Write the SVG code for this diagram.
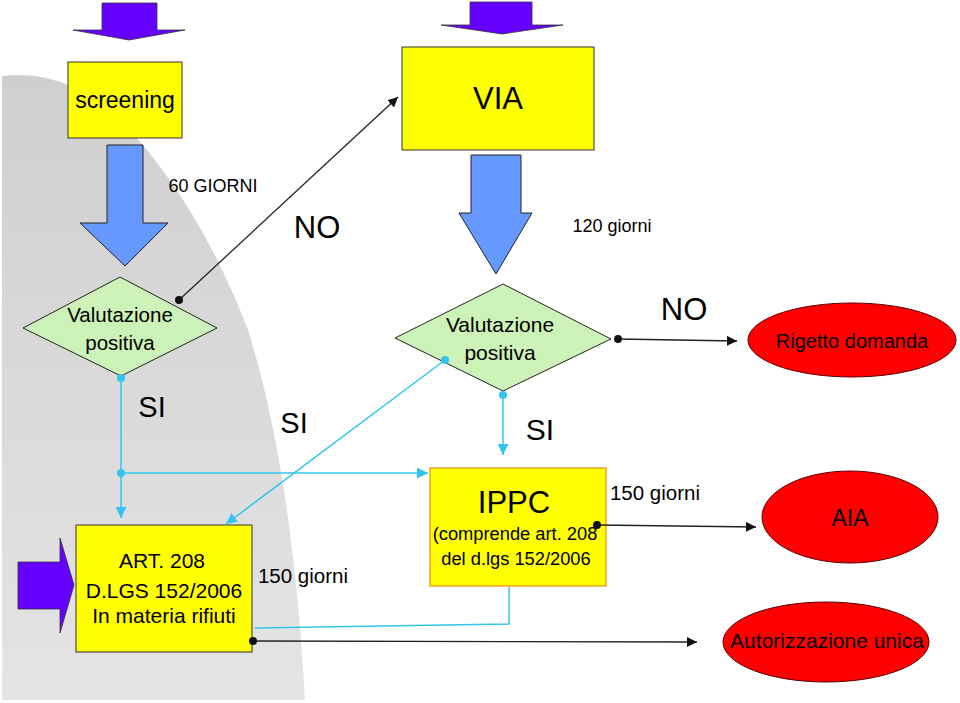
<svg xmlns="http://www.w3.org/2000/svg" width="960" height="703" viewBox="0 0 960 703">
<defs>
<style>
.t{font-family:"Liberation Sans",Arial,sans-serif;fill:#000;text-anchor:middle}
.box{fill:#ffff00;stroke:#333;stroke-width:1}
.dia{fill:#ccf2b8;stroke:#222;stroke-width:1}
.ell{fill:#ff0000;stroke:#5a0000;stroke-width:1}
.purple{fill:#6600ff;stroke:#333;stroke-width:0.8}
.blue{fill:#6699ff;stroke:#222;stroke-width:1}
.cy{stroke:#33c4ee;stroke-width:1.5;fill:none}
.bk{stroke:#222;stroke-width:1.3;fill:none}
</style>
<linearGradient id="g" x1="0" y1="0" x2="0" y2="1">
<stop offset="0" stop-color="#cfcfcf"/>
<stop offset="1" stop-color="#e4e4e4"/>
</linearGradient>
<marker id="ab" viewBox="0 0 10 10" refX="10" refY="5" markerWidth="10" markerHeight="10" markerUnits="userSpaceOnUse" orient="auto"><path d="M0,0 L10,5 L0,10 Z" fill="#111"/></marker>
<marker id="ac" viewBox="0 0 10 10" refX="10" refY="5" markerWidth="11" markerHeight="11" markerUnits="userSpaceOnUse" orient="auto"><path d="M0,0 L10,5 L0,10 Z" fill="#33c4ee"/></marker>
</defs>
<rect width="960" height="703" fill="#fff"/>
<path d="M2,76 Q 70,68 125,125 Q 200,205 248,330 Q 292,470 305,700 L 2,700 Z" fill="url(#g)"/>

<g id="arrow-top-screening"><polygon class="purple" points="102,3 157,3 157,30 185,30 129,40 73,30 102,30"/></g>
<g id="arrow-top-via"><polygon class="purple" points="470,2 532,2 532,25 563,25 502,34 441,25 470,25"/></g>
<g id="arrow-left-art"><polygon class="purple" points="18,562 60,562 60,538 74,585 60,633 60,609 18,609"/></g>

<g id="screening"><rect class="box" x="68" y="62" width="114" height="76"/><text class="t" x="125" y="108" font-size="23">screening</text></g>
<g id="via"><rect class="box" x="402" y="47" width="192" height="103"/><text class="t" x="498" y="109" font-size="31">VIA</text></g>

<g id="arrow-screening-down"><polygon class="blue" points="107,145 143,145 143,223 168,223 125,266 80,223 107,223"/></g>
<g id="arrow-via-down"><polygon class="blue" points="471,155 521,155 521,213 532,213 496,274 459,213 471,213"/></g>

<g id="val1"><polygon class="dia" points="23,328 120,277 217,328 121,376"/><text class="t" x="120" y="322" font-size="20.5">Valutazione</text><text class="t" x="120" y="350" font-size="20.5">positiva</text></g>
<g id="val2"><polygon class="dia" points="395,338 503,284 611,339 503,391"/><text class="t" x="500" y="332" font-size="21">Valutazione</text><text class="t" x="500" y="360" font-size="21">positiva</text></g>

<g id="rigetto"><ellipse class="ell" cx="852" cy="340" rx="104" ry="37"/><text class="t" x="852" y="348" font-size="20" fill="#220000">Rigetto domanda</text></g>

<g id="art208"><rect class="box" x="76" y="525" width="176" height="127"/><text class="t" x="162" y="568" font-size="21">ART. 208</text><text class="t" x="164" y="598" font-size="21">D.LGS 152/2006</text><text class="t" x="164" y="623" font-size="21">In materia rifiuti</text></g>

<g id="ippc"><rect x="430" y="468" width="176" height="118" fill="#ffff00" stroke="#e8920e" stroke-width="1.2"/><text class="t" x="514" y="513" font-size="31">IPPC</text><text class="t" x="515" y="540" font-size="18.3">(comprende art. 208</text><text class="t" x="516" y="565" font-size="18.3">del d.lgs 152/2006</text></g>

<g id="aia"><ellipse class="ell" cx="850" cy="517" rx="88" ry="46"/><text class="t" x="850" y="526" font-size="23">AIA</text></g>
<g id="autorizzazione"><ellipse class="ell" cx="826" cy="642" rx="103" ry="40"/><text class="t" x="827" y="648" font-size="21">Autorizzazione unica</text></g>

<g id="connectors">
<line class="bk" x1="179" y1="300" x2="398" y2="97" marker-end="url(#ab)"/>
<circle cx="179" cy="300" r="4" fill="#111"/>
<line class="bk" x1="618" y1="339" x2="737" y2="341" marker-end="url(#ab)"/>
<circle cx="618" cy="339" r="4" fill="#111"/>
<line class="bk" x1="597" y1="525" x2="756" y2="527" marker-end="url(#ab)"/>
<circle cx="597" cy="525" r="4" fill="#111"/>
<line class="bk" x1="253" y1="641" x2="697" y2="642" marker-end="url(#ab)"/>
<circle cx="253" cy="641" r="4" fill="#111"/>

<line class="cy" x1="121" y1="376" x2="121" y2="518" marker-end="url(#ac)"/>
<circle cx="121" cy="378" r="4" fill="#33c4ee"/>
<line class="cy" x1="121" y1="473" x2="428" y2="473" marker-end="url(#ac)"/>
<circle cx="121" cy="473" r="4" fill="#33c4ee"/>
<line class="cy" x1="445" y1="360" x2="226" y2="524" marker-end="url(#ac)"/>
<circle cx="445" cy="360" r="4" fill="#33c4ee"/>
<line class="cy" x1="503" y1="395" x2="503" y2="455" marker-end="url(#ac)"/>
<circle cx="503" cy="395" r="4" fill="#33c4ee"/>
<polyline class="cy" points="509,587 509,624 255,628"/>
</g>

<g id="labels">
<text class="t" x="213" y="192" font-size="18">60 GIORNI</text>
<text class="t" x="317" y="238" font-size="31">NO</text>
<text class="t" x="612" y="232" font-size="18">120 giorni</text>
<text class="t" x="684" y="320" font-size="31">NO</text>
<text class="t" x="152" y="417" font-size="29">SI</text>
<text class="t" x="294" y="433" font-size="29">SI</text>
<text class="t" x="540" y="440" font-size="30">SI</text>
<text class="t" x="303" y="583" font-size="20.5">150 giorni</text>
<text class="t" x="655" y="500" font-size="20.5">150 giorni</text>
</g>
</svg>
